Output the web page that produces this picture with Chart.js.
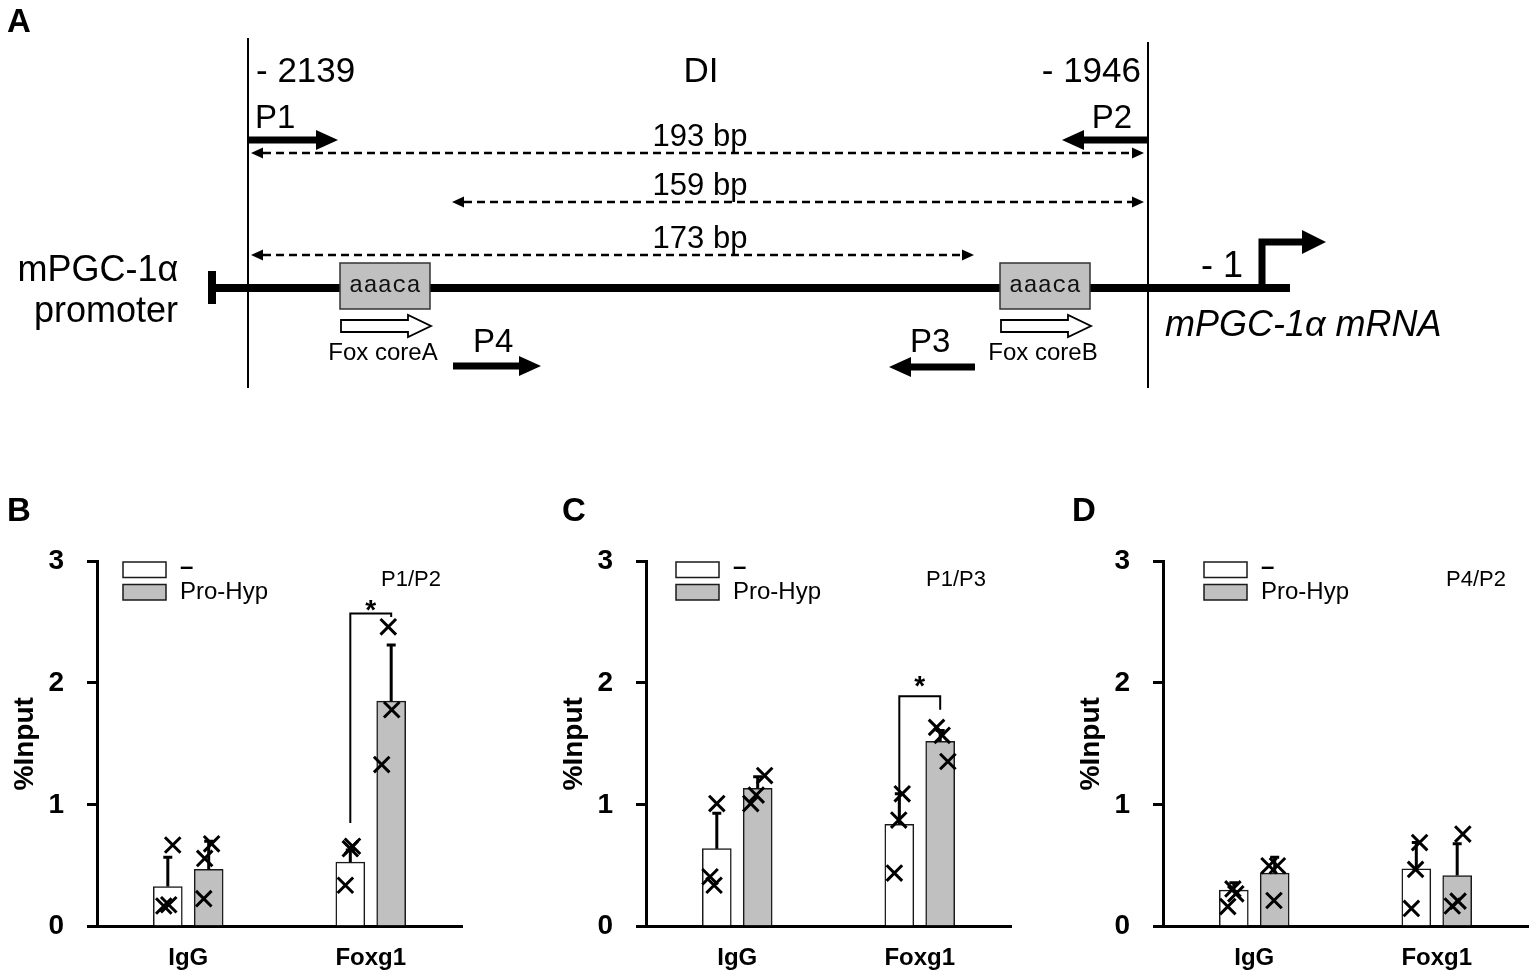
<!DOCTYPE html>
<html>
<head>
<meta charset="utf-8">
<title>mPGC-1α promoter ChIP</title>
<script src="https://cdn.jsdelivr.net/npm/chart.js@4.4.1/dist/chart.umd.min.js"></script>
<style>
  html, body { margin:0; padding:0; background:#fff; overflow:hidden; }
  body { width:1539px; height:979px; position:relative; font-family:"Liberation Sans", Arial, Helvetica, sans-serif; }
  .box { position:absolute; }
  .tag { position:absolute; font-weight:bold; font-size:33px; line-height:33px; color:#000; }
</style>
</head>
<body>
<div class="box" style="left:0;top:0;width:1539px;height:420px"><canvas id="chartA"></canvas></div>
<div class="box" style="left:0;top:490px;width:470px;height:489px"><canvas id="chartB"></canvas></div>
<div class="box" style="left:549px;top:490px;width:470px;height:489px"><canvas id="chartC"></canvas></div>
<div class="box" style="left:1066px;top:490px;width:470px;height:489px"><canvas id="chartD"></canvas></div>
<div class="tag" style="left:7px;top:4px">A</div>
<div class="tag" style="left:7px;top:493px">B</div>
<div class="tag" style="left:562px;top:493px">C</div>
<div class="tag" style="left:1072px;top:493px">D</div>

<script>
const FONT = '"Liberation Sans", Arial, Helvetica, sans-serif';
Chart.defaults.font.family = FONT;
Chart.defaults.color = "#000";

// ---------- panel A: promoter schematic (diagram units) ----------
const boundX = [248, 1148];
const boundTop = [38, 42];
const boundBottom = 388;
const geneRow = 288;
const geneSpan = [212, 1290];
const geneCap = [271, 304];
const primerNames = ["P1", "P2", "P3", "P4"];
const primerFrom = [248, 1148, 975, 453];
const primerTo = [338, 1062, 889, 541];
const primerRow = [140, 140, 367, 366];
const primerLabelX = [255, 1132, 910, 473];
const primerLabelY = [128, 128, 352, 352];
const primerLabelAlign = ["left", "right", "left", "left"];
const ampliconText = ["193 bp", "159 bp", "173 bp"];
const ampliconFrom = [251, 452, 251];
const ampliconTo = [1144, 1144, 974];
const ampliconRow = [153, 202, 255];
const ampliconLabelX = 700;
const foxNames = ["Fox coreA", "Fox coreB"];
const foxFrom = [340, 1000];
const foxTo = [430, 1090];
const foxMotif = "aaaca";
const motifTop = 263, motifBottom = 309, foxArrowRow = 326, foxLabelY = 360;
const tssX = 1262, tssTop = 242, tssTip = 1326;
const markText = ["- 2139", "DI", "- 1946", "mPGC-1α", "promoter", "- 1"];
const markX = [256, 701, 1141, 98, 106, 1201];
const markY = [82, 82, 82, 281, 322, 277];
const markAlign = ["left", "center", "right", "center", "center", "left"];
const markSize = [35, 35, 35, 36, 36, 36];
const mrnaText = "mPGC-1α mRNA";
const mrnaX = 1165, mrnaY = 336;

// ---------- panels B-D: ChIP %Input ----------
const categories = ["IgG", "Foxg1"];
const groups = ["–", "Pro-Hyp"];
const yTicks = [0, 1, 2, 3];
const primerPairs = ["P1/P2", "P1/P3", "P4/P2"];

// B  P1/P2
const bCtrl = [0.33, 0.53];
const bPro = [0.47, 1.85];
const bCtrlSd = [0.24, 0.10];
const bProSd = [0.23, 0.46];
const bCtrlPts = [[0.17, 0.18, 0.67], [0.34, 0.64, 0.66]];
const bProPts = [[0.68, 0.56, 0.23], [2.46, 1.78, 1.33]];
const bCtrlJit = [[-0.022, 0.005, 0.027], [-0.027, 0, 0.012]];
const bProJit = [[0.016, -0.022, -0.027], [-0.016, 0.003, -0.052]];
const bSig = [0.85, 2.57, 2.54];

// C  P1/P3
const cCtrl = [0.64, 0.84];
const cPro = [1.135, 1.52];
const cCtrlSd = [0.29, 0.25];
const cProSd = [0.095, 0.09];
const cCtrlPts = [[1.01, 0.41, 0.34], [1.09, 0.875, 0.44]];
const cProPts = [[1.24, 1.01, 1.08], [1.635, 1.57, 1.355]];
const cCtrlJit = [[0, -0.037, -0.015], [0.016, -0.003, -0.027]];
const cProJit = [[0.038, -0.038, -0.008], [-0.02, 0.011, 0.042]];
const cSig = [0.85, 1.89, 1.78];

// D  P4/P2
const dCtrl = [0.30, 0.475];
const dPro = [0.44, 0.42];
const dCtrlSd = [0.06, 0.215];
const dProSd = [0.13, 0.26];
const dCtrlPts = [[0.165, 0.27, 0.31], [0.69, 0.47, 0.15]];
const dProPts = [[0.50, 0.50, 0.215], [0.76, 0.21, 0.17]];
const dCtrlJit = [[-0.033, 0.011, -0.005], [0.018, -0.004, -0.027]];
const dProJit = [[-0.031, 0.015, -0.004], [0.031, 0.005, -0.027]];

// ---------- plugins ----------
const arrowHeads = {
  id: "arrowHeads",
  afterDatasetsDraw(chart) {
    const ctx = chart.ctx, xs = chart.scales.x, ys = chart.scales.y;
    ctx.save();
    ctx.fillStyle = "#000";
    chart.data.datasets.forEach((ds, i) => {
      if (!ds.heads) return;
      const pts = chart.getDatasetMeta(i).data;
      ds.heads.forEach(h => {
        const base = h.atStart ? pts[0] : pts[pts.length - 1];
        const tx = xs.getPixelForValue(h.x), ty = ys.getPixelForValue(h.y);
        const dx = tx - base.x, dy = ty - base.y, len = Math.hypot(dx, dy) || 1;
        const nx = -dy / len * ds.headHalf, ny = dx / len * ds.headHalf;
        ctx.beginPath();
        ctx.moveTo(tx, ty);
        ctx.lineTo(base.x + nx, base.y + ny);
        ctx.lineTo(base.x - nx, base.y - ny);
        ctx.closePath();
        ctx.fill();
      });
    });
    ctx.restore();
  }
};

const schematicDecor = {
  id: "schematicDecor",
  afterDatasetsDraw(chart) {
    const ctx = chart.ctx, xs = chart.scales.x, ys = chart.scales.y;
    const X = v => xs.getPixelForValue(v), Y = v => ys.getPixelForValue(v);
    ctx.save();
    foxFrom.forEach((f, i) => {
      const t = foxTo[i];
      // motif box
      ctx.fillStyle = "#c0c0c0";
      ctx.strokeStyle = "#333";
      ctx.lineWidth = 1.5;
      ctx.fillRect(X(f), Y(motifTop), X(t) - X(f), Y(motifBottom) - Y(motifTop));
      ctx.strokeRect(X(f), Y(motifTop), X(t) - X(f), Y(motifBottom) - Y(motifTop));
      ctx.fillStyle = "#111";
      ctx.font = '24px "Liberation Mono", "Courier New", monospace';
      ctx.textAlign = "center";
      ctx.textBaseline = "middle";
      ctx.fillText(foxMotif, X((f + t) / 2), Y(geneRow - 2));
      // open arrow (Fox core orientation)
      const r = foxArrowRow, hb = t - 22;
      const poly = [[f + 1, r - 6], [hb, r - 6], [hb, r - 11], [t + 1, r], [hb, r + 11], [hb, r + 6], [f + 1, r + 6]];
      ctx.beginPath();
      poly.forEach((p, k) => k ? ctx.lineTo(X(p[0]), Y(p[1])) : ctx.moveTo(X(p[0]), Y(p[1])));
      ctx.closePath();
      ctx.fillStyle = "#fff";
      ctx.fill();
      ctx.strokeStyle = "#000";
      ctx.lineWidth = 1.8;
      ctx.stroke();
      ctx.fillStyle = "#000";
      ctx.font = "24px " + FONT;
      ctx.textBaseline = "alphabetic";
      ctx.fillText(foxNames[i], X((f + t) / 2 - 2), Y(foxLabelY));
    });
    ctx.fillStyle = "#000";
    ctx.textBaseline = "alphabetic";
    markText.forEach((s, i) => {
      ctx.font = markSize[i] + "px " + FONT;
      ctx.textAlign = markAlign[i];
      ctx.fillText(s, X(markX[i]), Y(markY[i]));
    });
    primerNames.forEach((s, i) => {
      ctx.font = "33px " + FONT;
      ctx.textAlign = primerLabelAlign[i];
      ctx.fillText(s, X(primerLabelX[i]), Y(primerLabelY[i]));
    });
    ampliconText.forEach((s, i) => {
      ctx.font = "31px " + FONT;
      ctx.textAlign = "center";
      ctx.fillText(s, X(ampliconLabelX), Y(ampliconRow[i] - 7));
    });
    ctx.font = "italic 36px " + FONT;
    ctx.textAlign = "left";
    ctx.fillText(mrnaText, X(mrnaX), Y(mrnaY));
    ctx.restore();
  }
};

const errorBars = {
  id: "errorBars",
  afterDatasetDraw(chart, args) {
    const ds = chart.data.datasets[args.index];
    if (!ds.err) return;
    const ctx = chart.ctx, ys = chart.scales.y;
    ctx.save();
    ctx.strokeStyle = "#000";
    ctx.lineWidth = 3;
    args.meta.data.forEach((bar, i) => {
      const top = ys.getPixelForValue(ds.data[i].y + ds.err[i]);
      ctx.beginPath();
      ctx.moveTo(bar.x, bar.y);
      ctx.lineTo(bar.x, top);
      ctx.moveTo(bar.x - 4.5, top);
      ctx.lineTo(bar.x + 4.5, top);
      ctx.stroke();
    });
    ctx.restore();
  }
};

const panelDecor = {
  id: "panelDecor",
  afterDraw(chart, args, o) {
    const ctx = chart.ctx, a = chart.chartArea;
    ctx.save();
    const bx = a.left + o.legendDx;
    const rows = [a.top + 1, a.top + 23.5];
    groups.forEach((g, i) => {
      ctx.fillStyle = chart.data.datasets[i].backgroundColor;
      ctx.fillRect(bx, rows[i], 43, 15.5);
      ctx.lineWidth = 1.5;
      ctx.strokeStyle = "#1a1a1a";
      ctx.strokeRect(bx, rows[i], 43, 15.5);
      ctx.fillStyle = "#000";
      ctx.textAlign = "left";
      ctx.textBaseline = "middle";
      ctx.font = (i === 0 ? "bold " : "") + "24px " + FONT;
      ctx.fillText(g, bx + 57, rows[i] + (i === 0 ? 5 : 8));
    });
    ctx.font = "22px " + FONT;
    ctx.fillText(o.probe, a.left + o.probeDx, a.top + 19);
    if (o.sig) {
      const xs = chart.scales.x, y = chart.scales.y;
      ctx.font = "bold 28px " + FONT;
      ctx.textAlign = "center";
      ctx.textBaseline = "alphabetic";
      ctx.fillText("*", xs.getPixelForValue(1), y.getPixelForValue(o.sig[1]) + o.starLift);
    }
    ctx.restore();
  }
};

// ---------- panel A ----------
function lineSet(points, width, extra) {
  return Object.assign({
    data: points.map(p => ({ x: p[0], y: p[1] })),
    showLine: true, borderColor: "#000", borderWidth: width, pointRadius: 0,
    borderCapStyle: "butt", borderJoinStyle: "miter", tension: 0, fill: false, clip: false
  }, extra || {});
}

const aSets = [];
boundX.forEach((x, i) => aSets.push(lineSet([[x, boundTop[i]], [x, boundBottom]], 2)));
aSets.push(lineSet([[geneSpan[0], geneRow], [geneSpan[1], geneRow]], 8));
aSets.push(lineSet([[geneSpan[0], geneCap[0]], [geneSpan[0], geneCap[1]]], 8));
primerNames.forEach((n, i) => {
  const dir = Math.sign(primerTo[i] - primerFrom[i]);
  aSets.push(lineSet([[primerFrom[i], primerRow[i]], [primerTo[i] - dir * 22, primerRow[i]]], 7,
    { heads: [{ x: primerTo[i], y: primerRow[i] }], headHalf: 10 }));
});
ampliconText.forEach((s, i) => {
  aSets.push(lineSet([[ampliconFrom[i] + 12, ampliconRow[i]], [ampliconTo[i] - 12, ampliconRow[i]]], 2.5,
    { borderDash: [8, 5], heads: [{ x: ampliconFrom[i], y: ampliconRow[i], atStart: true }, { x: ampliconTo[i], y: ampliconRow[i] }], headHalf: 5.5 }));
});
aSets.push(lineSet([[tssX, geneRow], [tssX, tssTop], [tssTip - 24, tssTop]], 7,
  { heads: [{ x: tssTip, y: tssTop }], headHalf: 12 }));

new Chart(document.getElementById("chartA"), {
  type: "scatter",
  data: { datasets: aSets },
  options: {
    responsive: true, maintainAspectRatio: false, animation: false, events: [],
    layout: { padding: 0, autoPadding: false },
    plugins: { legend: { display: false }, tooltip: { enabled: false } },
    scales: {
      x: { type: "linear", min: 0, max: 1539, display: false },
      y: { type: "linear", min: 0, max: 420, reverse: true, display: false }
    }
  },
  plugins: [arrowHeads, schematicDecor]
});

// ---------- panels B-D ----------
// x is a linear axis in category-index units: 0 = IgG, 1 = Foxg1
const sideShift = 0.112;

function barPoints(vals, side) {
  return vals.map((v, c) => ({ x: c + side * sideShift, y: v }));
}
function scatterPoints(pts, jit, side) {
  const out = [];
  pts.forEach((vals, c) => vals.forEach((v, k) => out.push({ x: c + side * sideShift + jit[c][k], y: v })));
  return out;
}

function makePanel(id, ctrl, pro, ctrlSd, proSd, ctrlPts, proPts, ctrlJit, proJit, sig, decor) {
  const bar = { type: "bar", grouped: false, barThickness: 29, borderColor: "#1a1a1a", borderWidth: 1.5, order: 3 };
  const marker = { type: "scatter", pointStyle: "crossRot", pointRadius: 11,
    pointBorderWidth: 3, pointBorderColor: "#000", borderColor: "#000", order: 1 };
  const datasets = [
    Object.assign({ label: groups[0], data: barPoints(ctrl, -1), err: ctrlSd, backgroundColor: "#ffffff" }, bar),
    Object.assign({ label: groups[1], data: barPoints(pro, 1), err: proSd, backgroundColor: "#c0c0c0" }, bar),
    Object.assign({ data: scatterPoints(ctrlPts, ctrlJit, -1) }, marker),
    Object.assign({ data: scatterPoints(proPts, proJit, 1) }, marker)
  ];
  if (sig) {
    datasets.push({ type: "line", order: 2,
      data: [{ x: 1 - sideShift, y: sig[0] }, { x: 1 - sideShift, y: sig[1] }, { x: 1 + sideShift, y: sig[1] }, { x: 1 + sideShift, y: sig[2] }],
      borderColor: "#000", borderWidth: 2, pointRadius: 0, fill: false, tension: 0 });
  }
  new Chart(document.getElementById(id), {
    type: "bar",
    data: { datasets },
    options: {
      responsive: true, maintainAspectRatio: false, animation: false, events: [],
      layout: { padding: { top: 71, right: 8, left: 0, bottom: 0 }, autoPadding: false },
      plugins: {
        legend: { display: false }, tooltip: { enabled: false },
        panelDecor: Object.assign({ sig }, decor)
      },
      scales: {
        x: {
          type: "linear", min: -0.5, max: 1.5, offset: false,
          afterFit: s => { s.height = 52.3; },
          afterBuildTicks: s => { s.ticks = categories.map((c, i) => ({ value: i })); },
          grid: { display: false, drawTicks: false, offset: false },
          border: { display: true, width: 3, color: "#000" },
          ticks: { font: { size: 24, weight: "bold" }, padding: 17, color: "#000",
            callback: v => categories[v] }
        },
        y: {
          min: 0, max: 3,
          afterFit: s => { s.width = 97; },
          afterBuildTicks: s => { s.ticks = yTicks.map(v => ({ value: v })); },
          ticks: { font: { size: 28, weight: "bold" }, padding: 23, color: "#000" },
          grid: { drawOnChartArea: false, tickLength: 10, lineWidth: 3, color: "#000" },
          border: { display: true, width: 3, color: "#000" },
          title: { display: true, text: "%Input", font: { size: 28, weight: "bold" }, padding: { top: 8 }, color: "#000" }
        }
      }
    },
    plugins: [errorBars, panelDecor]
  });
}

makePanel("chartB", bCtrl, bPro, bCtrlSd, bProSd, bCtrlPts, bProPts, bCtrlJit, bProJit, bSig,
  { legendDx: 26, probe: primerPairs[0], probeDx: 284, starLift: 6 });
makePanel("chartC", cCtrl, cPro, cCtrlSd, cProSd, cCtrlPts, cProPts, cCtrlJit, cProJit, cSig,
  { legendDx: 30, probe: primerPairs[1], probeDx: 280, starLift: -1 });
makePanel("chartD", dCtrl, dPro, dCtrlSd, dProSd, dCtrlPts, dProPts, dCtrlJit, dProJit, null,
  { legendDx: 41, probe: primerPairs[2], probeDx: 283, starLift: 0 });
</script>
</body>
</html>
